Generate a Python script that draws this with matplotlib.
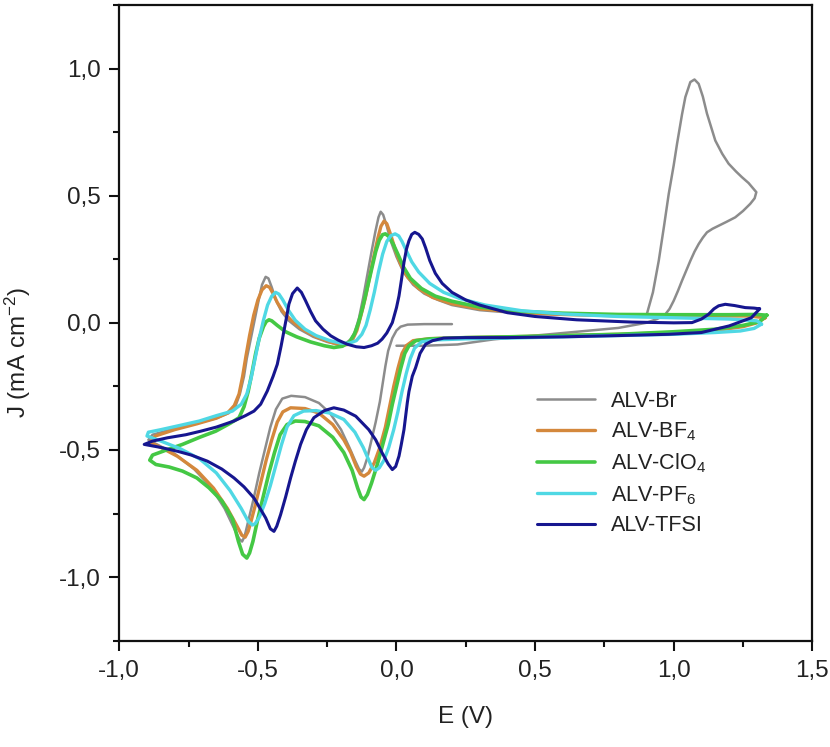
import matplotlib
matplotlib.use("Agg")
import matplotlib.pyplot as plt
from matplotlib import font_manager
from matplotlib.ticker import MultipleLocator, FuncFormatter

# ---- cyclic voltammograms: potential E (V) and current density J (mA cm^-2) ----
br_E = [0.20, 0.10, 0.04, 0.015, 0.0, -0.015, -0.03, -0.04, -0.05, -0.06, -0.075, -0.09, -0.105,
        -0.117, -0.125, -0.135, -0.15, -0.17, -0.20, -0.24, -0.28, -0.33, -0.38, -0.412, -0.435,
        -0.455, -0.475, -0.495, -0.515, -0.535, -0.548, -0.557, -0.567, -0.585, -0.62, -0.67, -0.73,
        -0.80, -0.86, -0.895,
        -0.88, -0.80, -0.72, -0.65, -0.605, -0.58, -0.565, -0.55, -0.54, -0.525, -0.51, -0.497,
        -0.485, -0.472, -0.462, -0.45, -0.435, -0.415, -0.39, -0.35, -0.30, -0.25, -0.21, -0.185,
        -0.165, -0.15, -0.135, -0.12, -0.105, -0.09, -0.076, -0.065, -0.057, -0.048, -0.035, -0.02,
        0.0, 0.025, 0.06, 0.10, 0.15, 0.20, 0.30, 0.45, 0.60, 0.75, 0.85, 0.903,
        0.925, 0.946, 0.965, 0.982, 1.0, 1.012, 1.03, 1.042, 1.06, 1.075, 1.09, 1.105, 1.12, 1.15,
        1.175, 1.198, 1.225, 1.246, 1.27, 1.288, 1.298,
        1.292, 1.276, 1.25, 1.222, 1.19, 1.162, 1.14, 1.12, 1.105, 1.09, 1.075, 1.06, 1.045, 1.03,
        1.015, 1.0, 0.985, 0.97,
        0.94, 0.90, 0.80, 0.65, 0.50, 0.35, 0.22, 0.10, 0.0]
br_J = [-0.005, -0.005, -0.007, -0.015, -0.03, -0.06, -0.11, -0.17, -0.24, -0.31, -0.39, -0.46, -0.53,
        -0.57, -0.585, -0.575, -0.54, -0.49, -0.42, -0.355, -0.315, -0.292, -0.287, -0.298, -0.34,
        -0.41, -0.50, -0.59, -0.69, -0.78, -0.84, -0.86, -0.85, -0.81, -0.73, -0.645, -0.575,
        -0.515, -0.48, -0.46,
        -0.44, -0.415, -0.395, -0.375, -0.355, -0.325, -0.28, -0.21, -0.14, -0.06, 0.02, 0.09,
        0.15, 0.181, 0.175, 0.14, 0.09, 0.045, 0.01, -0.025, -0.055, -0.075, -0.085, -0.082,
        -0.065, -0.035, 0.02, 0.10, 0.19, 0.28, 0.36, 0.415, 0.437, 0.425, 0.38, 0.32,
        0.26, 0.20, 0.15, 0.115, 0.09, 0.07, 0.05, 0.037, 0.032, 0.03, 0.03, 0.034,
        0.12, 0.244, 0.38, 0.507, 0.62, 0.704, 0.82, 0.888, 0.947, 0.957, 0.94, 0.89, 0.823, 0.717,
        0.665, 0.626, 0.595, 0.573, 0.55, 0.527, 0.514,
        0.49, 0.468, 0.44, 0.415, 0.397, 0.382, 0.37, 0.356, 0.335, 0.31, 0.28, 0.244, 0.205, 0.166,
        0.125, 0.087, 0.055, 0.034,
        0.015, 0.0, -0.02, -0.035, -0.05, -0.065, -0.085, -0.09, -0.09]

bf4_E = [1.33, 1.30, 1.25, 1.15, 1.0, 0.8, 0.6, 0.4, 0.25, 0.12, 0.06, 0.035, 0.02, 0.005, -0.01,
         -0.025, -0.04, -0.06, -0.08, -0.10, -0.117, -0.13, -0.145, -0.165, -0.19, -0.23, -0.28,
         -0.33, -0.382, -0.41, -0.43, -0.45, -0.47, -0.49, -0.51, -0.527, -0.535, -0.546, -0.558,
         -0.575, -0.61, -0.66, -0.72, -0.79, -0.85, -0.89,
         -0.87, -0.80, -0.72, -0.65, -0.61, -0.585, -0.568, -0.555, -0.543, -0.53, -0.515, -0.50,
         -0.485, -0.47, -0.458, -0.445, -0.43, -0.41, -0.38, -0.34, -0.29, -0.24, -0.20, -0.175,
         -0.158, -0.143, -0.128, -0.112, -0.097, -0.082, -0.068, -0.056, -0.045, -0.035, -0.022,
         -0.005, 0.015, 0.04, 0.08, 0.13, 0.20, 0.30, 0.45, 0.60, 0.80, 1.0, 1.15, 1.27, 1.33]
bf4_J = [0.02, 0.0, -0.015, -0.03, -0.038, -0.045, -0.05, -0.055, -0.058, -0.062, -0.07, -0.09,
         -0.12, -0.18, -0.25, -0.33, -0.41, -0.49, -0.55, -0.59, -0.603, -0.595, -0.565, -0.51,
         -0.46, -0.40, -0.355, -0.337, -0.334, -0.35, -0.39, -0.46, -0.54, -0.63, -0.72, -0.79,
         -0.82, -0.843, -0.835, -0.80, -0.73, -0.65, -0.58, -0.525, -0.49, -0.47,
         -0.445, -0.42, -0.397, -0.375, -0.355, -0.325, -0.28, -0.21, -0.13, -0.05, 0.03, 0.09,
         0.13, 0.146, 0.14, 0.115, 0.08, 0.045, 0.01, -0.025, -0.055, -0.075, -0.088, -0.085,
         -0.065, -0.03, 0.03, 0.10, 0.18, 0.26, 0.33, 0.38, 0.40, 0.39, 0.35,
         0.29, 0.23, 0.18, 0.135, 0.10, 0.075, 0.055, 0.04, 0.033, 0.028, 0.027, 0.027, 0.027, 0.02]

clo4_E = [1.336, 1.31, 1.25, 1.15, 1.0, 0.8, 0.6, 0.4, 0.25, 0.12, 0.07, 0.045, 0.03, 0.015, 0.0,
          -0.015, -0.03, -0.05, -0.07, -0.09, -0.105, -0.117, -0.128, -0.14, -0.16, -0.19, -0.23,
          -0.28, -0.33, -0.365, -0.395, -0.42, -0.44, -0.46, -0.48, -0.50, -0.518, -0.53, -0.54,
          -0.555, -0.57, -0.592, -0.63, -0.676, -0.72, -0.772, -0.82, -0.868, -0.89,
          -0.88, -0.83, -0.772, -0.71, -0.652, -0.60, -0.568, -0.55, -0.535, -0.522, -0.508,
          -0.495, -0.48, -0.47, -0.46, -0.45, -0.43, -0.40, -0.36, -0.31, -0.26, -0.226, -0.195,
          -0.17, -0.152, -0.137, -0.122, -0.107, -0.09, -0.075, -0.062, -0.05, -0.04, -0.028,
          -0.012, 0.005, 0.025, 0.05, 0.09, 0.14, 0.20, 0.30, 0.45, 0.60, 0.80, 1.0, 1.2, 1.3, 1.336]
clo4_J = [0.03, 0.005, -0.01, -0.025, -0.035, -0.045, -0.05, -0.055, -0.058, -0.063, -0.07, -0.09,
          -0.12, -0.18, -0.25, -0.32, -0.40, -0.48, -0.56, -0.63, -0.675, -0.695, -0.685, -0.65,
          -0.58, -0.51, -0.45, -0.405, -0.388, -0.386, -0.40, -0.44, -0.51, -0.59, -0.68, -0.77,
          -0.86, -0.905, -0.925, -0.91, -0.86, -0.77, -0.70, -0.649, -0.61, -0.583, -0.567, -0.557,
          -0.54,
          -0.52, -0.50, -0.478, -0.45, -0.426, -0.395, -0.373, -0.33, -0.27, -0.20, -0.12,
          -0.06, -0.015, 0.005, 0.012, 0.008, -0.01, -0.035, -0.055, -0.075, -0.09, -0.097, -0.092,
          -0.075, -0.045, 0.0, 0.06, 0.13, 0.21, 0.28, 0.325, 0.347, 0.35, 0.34,
          0.31, 0.27, 0.22, 0.175, 0.135, 0.105, 0.085, 0.062, 0.045, 0.038, 0.033, 0.032, 0.032,
          0.033, 0.03]

pf6_E = [1.317, 1.29, 1.24, 1.15, 1.0, 0.8, 0.6, 0.4, 0.25, 0.14, 0.09, 0.065, 0.05, 0.035, 0.02,
         0.005, -0.01, -0.028, -0.045, -0.062, -0.075, -0.088, -0.10, -0.12, -0.15, -0.19, -0.24,
         -0.29, -0.335, -0.37, -0.395, -0.415, -0.435, -0.455, -0.475, -0.495, -0.51, -0.52,
         -0.535, -0.56, -0.60, -0.65, -0.71, -0.78, -0.85, -0.90,
         -0.895, -0.85, -0.78, -0.711, -0.65, -0.592, -0.56, -0.54, -0.525, -0.51, -0.495, -0.48,
         -0.465, -0.45, -0.436, -0.424, -0.41, -0.39, -0.365, -0.33, -0.29, -0.24, -0.20, -0.17,
         -0.145, -0.125, -0.11, -0.095, -0.08, -0.065, -0.05, -0.035, -0.02, -0.005, 0.008, 0.02,
         0.035, 0.055, 0.08, 0.12, 0.17, 0.23, 0.32, 0.45, 0.60, 0.80, 1.0, 1.2, 1.3, 1.317]
pf6_J = [-0.005, -0.022, -0.032, -0.038, -0.045, -0.05, -0.055, -0.06, -0.063, -0.067, -0.075, -0.10,
         -0.14, -0.20, -0.27, -0.35, -0.42, -0.49, -0.54, -0.57, -0.58, -0.57, -0.54, -0.49, -0.43,
         -0.38, -0.355, -0.345, -0.347, -0.365, -0.41, -0.48, -0.56, -0.64, -0.71, -0.765, -0.79,
         -0.795, -0.78, -0.73, -0.66, -0.59, -0.535, -0.495, -0.465, -0.445,
         -0.43, -0.42, -0.403, -0.386, -0.365, -0.347, -0.32, -0.28, -0.22, -0.14, -0.06, 0.01,
         0.07, 0.105, 0.12, 0.113, 0.09, 0.05, 0.01, -0.025, -0.05, -0.07, -0.08, -0.08,
         -0.07, -0.045, -0.01, 0.05, 0.12, 0.20, 0.27, 0.32, 0.343, 0.35, 0.342, 0.32,
         0.285, 0.24, 0.20, 0.155, 0.12, 0.095, 0.07, 0.048, 0.035, 0.025, 0.02, 0.015, 0.008, -0.005]

tfsi_E = [1.31, 1.28, 1.20, 1.10, 0.98, 0.80, 0.60, 0.40, 0.25, 0.17, 0.13, 0.105, 0.085, 0.069,
          0.057, 0.045, 0.039, 0.027, 0.017, 0.009, -0.003, -0.015, -0.03, -0.052, -0.075, -0.10,
          -0.147, -0.19, -0.226, -0.26, -0.298, -0.325, -0.346, -0.365, -0.382, -0.40, -0.418,
          -0.432, -0.442, -0.455, -0.472, -0.514, -0.55, -0.586, -0.63, -0.682, -0.74, -0.79,
          -0.85, -0.91,
          -0.88, -0.826, -0.76, -0.706, -0.65, -0.586, -0.545, -0.514, -0.49, -0.466, -0.445,
          -0.43, -0.416, -0.406, -0.397, -0.388, -0.375, -0.358, -0.343, -0.328, -0.31, -0.292,
          -0.265, -0.237, -0.21, -0.178, -0.145, -0.117, -0.09, -0.068, -0.052, -0.035, -0.015,
          0.0, 0.009, 0.018, 0.027, 0.036, 0.045, 0.055, 0.066, 0.08, 0.093, 0.105, 0.12, 0.14,
          0.165, 0.20, 0.25, 0.30, 0.40, 0.50, 0.65, 0.85, 1.0, 1.066, 1.10, 1.126, 1.145, 1.162,
          1.186, 1.22, 1.258, 1.29, 1.31]
tfsi_J = [0.055, 0.02, -0.012, -0.038, -0.045, -0.05, -0.055, -0.058, -0.058, -0.06, -0.07, -0.084,
          -0.12, -0.176, -0.21, -0.27, -0.314, -0.42, -0.48, -0.524, -0.565, -0.577, -0.555, -0.511,
          -0.46, -0.42, -0.367, -0.343, -0.334, -0.345, -0.373, -0.42, -0.478, -0.545, -0.61, -0.685,
          -0.754, -0.80, -0.82, -0.81, -0.767, -0.689, -0.645, -0.61, -0.575, -0.544, -0.52, -0.505,
          -0.49, -0.478,
          -0.465, -0.452, -0.44, -0.426, -0.41, -0.386, -0.365, -0.347, -0.32, -0.268, -0.21,
          -0.163, -0.09, -0.032, 0.02, 0.074, 0.115, 0.137, 0.12, 0.087, 0.045, 0.008,
          -0.025, -0.051, -0.068, -0.084, -0.094, -0.097, -0.09, -0.08, -0.064, -0.04, 0.001,
          0.06, 0.106, 0.17, 0.238, 0.29, 0.323, 0.348, 0.356, 0.348, 0.33, 0.295, 0.245, 0.195,
          0.155, 0.12, 0.09, 0.07, 0.04, 0.025, 0.012, 0.003, 0.0, 0.001, 0.015, 0.034, 0.055, 0.067,
          0.073, 0.068, 0.06, 0.058, 0.055]

labels = ["ALV-Br", "ALV-BF$_{4}$", "ALV-ClO$_{4}$", "ALV-PF$_{6}$", "ALV-TFSI"]
colors = ["#8c8c8c", "#d4883c", "#44c844", "#4fd8e4", "#16168f"]
widths = [1.8, 2.4, 2.6, 2.4, 2.2]

x_ticks = [-1.0, -0.5, 0.0, 0.5, 1.0, 1.5]
y_ticks = [-1.0, -0.5, 0.0, 0.5, 1.0]

# ---- fonts ----
installed = {f.name for f in font_manager.fontManager.ttflist}
family = "Liberation Sans" if "Liberation Sans" in installed else "DejaVu Sans"
plt.rcParams["font.family"] = [family, "DejaVu Sans"]
plt.rcParams["mathtext.fontset"] = "custom"
plt.rcParams["mathtext.rm"] = family
plt.rcParams["mathtext.default"] = "regular"

fig = plt.figure(figsize=(8.30, 7.47), dpi=100)
ax = fig.add_axes([0.1437, 0.1423, 0.8350, 0.8510])

series = [(br_E, br_J), (bf4_E, bf4_J), (clo4_E, clo4_J), (pf6_E, pf6_J), (tfsi_E, tfsi_J)]
handles = []
for (e, j), lab, c, lw in zip(series, labels, colors, widths):
    h, = ax.plot(e, j, color=c, lw=lw, label=lab, solid_joinstyle="round", solid_capstyle="round")
    handles.append(h)

ax.set_xlim(-1.0, 1.5)
ax.set_ylim(-1.25, 1.25)
ax.set_xticks(x_ticks)
ax.set_yticks(y_ticks)
ax.xaxis.set_minor_locator(MultipleLocator(0.25))
ax.yaxis.set_minor_locator(MultipleLocator(0.25))
comma = FuncFormatter(lambda v, p: f"{v:.1f}".replace(".", ",").replace("-0,0", "0,0"))
ax.xaxis.set_major_formatter(comma)
ax.yaxis.set_major_formatter(comma)

for s in ax.spines.values():
    s.set_linewidth(1.6)
    s.set_color("#111111")
ax.tick_params(which="both", direction="out", top=False, right=False, width=1.5, color="#111111")
ax.tick_params(which="major", length=7)
ax.tick_params(which="minor", length=4)
ax.tick_params(axis="x", which="major", labelsize=17.5, pad=7, labelcolor="#222222")
ax.tick_params(axis="y", which="major", labelsize=17.5, pad=6, labelcolor="#222222")

ax.set_xlabel("E (V)", fontsize=17.5, color="#222222")
ax.set_ylabel("J (mA cm$^{-2}$)", fontsize=17.5, color="#222222")
ax.xaxis.set_label_coords(0.50, -0.103)
ax.yaxis.set_label_coords(-0.125, 0.454)

ax.legend(handles=handles, loc="upper left", bbox_to_anchor=(537 / 830, 1 - 391 / 747),
          bbox_transform=fig.transFigure, frameon=False, fontsize=15.5, handlelength=2.7,
          handletextpad=0.75, labelspacing=0.4, borderpad=0, borderaxespad=0,
          labelcolor="#222222")

fig.savefig("out.png", dpi=100)
